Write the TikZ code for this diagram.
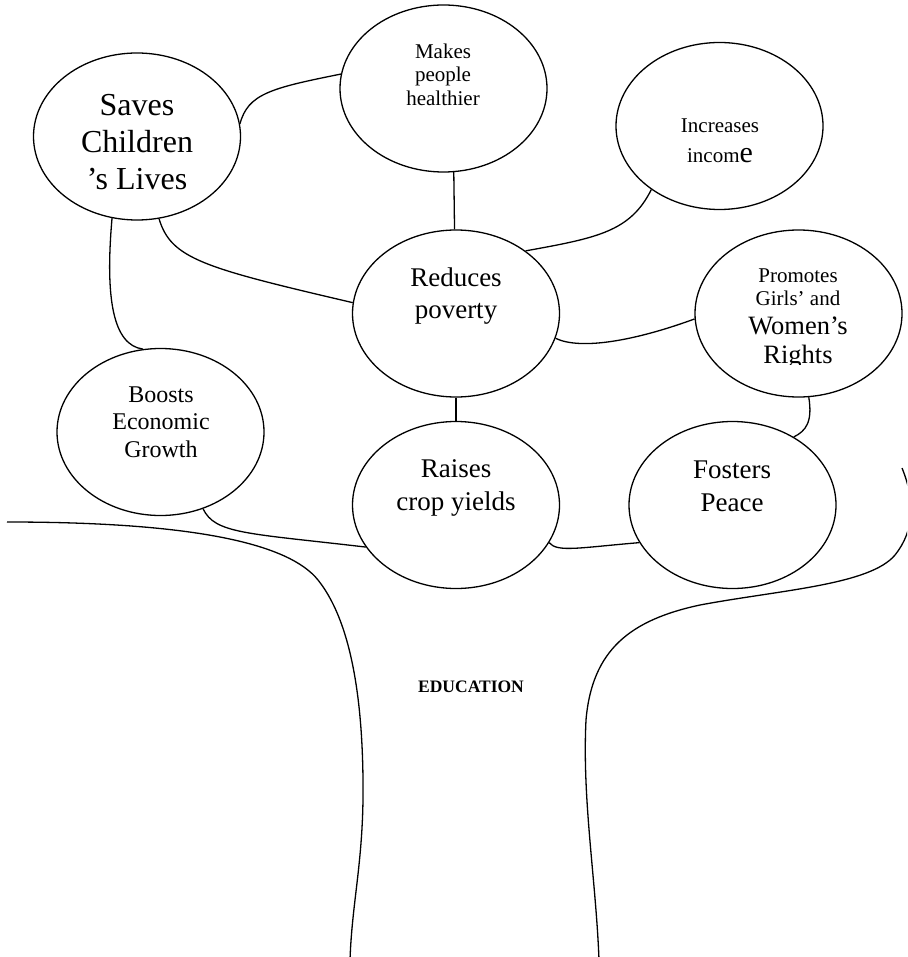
\documentclass[tikz,border=0pt]{standalone}
\usepackage{fontspec}
\setmainfont{Liberation Serif}
\usetikzlibrary{shapes.geometric}

\begin{document}
\begin{tikzpicture}[x=1pt,y=-1pt,
  bubble/.style={draw, ellipse, line width=1.3pt, minimum width=207pt, minimum height=167pt, inner sep=0pt},
  txt/.style={anchor=north, align=center, inner sep=0pt},
  link/.style={line width=1.3pt}]

\clip (0,0) rectangle (907,957);

\node[bubble] (saves) at (137,136.5) {};
\node[bubble] (makes) at (443.5,88.5) {};
\node[bubble] (income) at (719.5,126) {};
\node[bubble] (poverty) at (456,313.5) {};
\node[bubble] (rights) at (798.5,313.5) {};
\node[bubble] (growth) at (160.5,432) {};
\node[bubble] (crops) at (456,505) {};
\node[bubble] (peace) at (732.5,505) {};

\node[txt, font=\fontsize{32}{37}\selectfont] (saves-t) at (137,89) {\strut Saves\\\strut Children\\\strut ’s Lives};
\node[txt, font=\fontsize{21}{23.5}\selectfont] (makes-t) at (443,41.5) {\strut Makes\\\strut people\\\strut healthier};
\node[txt, font=\fontsize{21}{30}\selectfont] (income-t) at (720,111) {\strut Increases\\\strut incom{\fontsize{30}{30}\selectfont e}};
\node[txt, font=\fontsize{27}{32}\selectfont] (poverty-t) at (456,263.6) {\strut Reduces\\\strut poverty};
\begin{scope}
\clip (690,250) rectangle (906,364);
\node[txt, font=\fontsize{21}{29}\selectfont] (rights-t) at (798,261.7) {\strut Promotes\\[-6pt]\strut Girls’ and\\\strut{\fontsize{26.5}{29}\selectfont Women’s}\\\strut{\fontsize{26.5}{29}\selectfont Rights}};
\end{scope}
\node[txt, font=\fontsize{24}{27.5}\selectfont] (growth-t) at (161,382.75) {\strut Boosts\\\strut Economic\\\strut Growth};
\node[txt, font=\fontsize{27}{33}\selectfont] (crops-t) at (456,454) {\strut Raises\\\strut crop yields};
\node[txt, font=\fontsize{27}{33}\selectfont] (peace-t) at (732,455) {\strut Fosters\\\strut Peace};

\draw[link] (saves.7) .. controls +(8,-30) and +(-70,14) .. (makes.172);
\draw[link] (saves.-75) .. controls +(12,40) and +(-150,-35) .. (poverty.174);
\draw[link] (saves.-107) .. controls +(-7,80) and +(-30,-4) .. (growth.102);
\draw[link] (makes.-83) -- (poverty.91);
\draw[link] (income.-137) .. controls +(-21,42) and +(72,-13) .. (poverty.42);
\draw[link] (poverty.-14) .. controls +(25,12) and +(-60,22) .. (rights.183);
\draw[link] (rights.-83) .. controls +(4,25) and +(12,-6) .. (peace.48);
\draw[link] (poverty.-90) -- (crops.90);
\draw[link] (growth.-61) .. controls +(12,25) and +(-120,-14) .. (crops.205);
\draw[link] (crops.-22) .. controls +(8,10) and +(-60,5) .. (peace.202);

% trunk
\draw[link] (7,522) .. controls (200,522) and (290,545) .. (318,580) .. controls (346,615) and (362,680) .. (363,780) .. controls (364,860) and (352,900) .. (350,960);
\draw[link] (902,468) .. controls (915,500) and (915,530) .. (895,555) .. controls (870,585) and (780,590) .. (700,605) .. controls (630,620) and (592,650) .. (586,720) .. controls (582,800) and (596,880) .. (599,960);

\node[anchor=base, inner sep=0pt, font=\fontsize{17.5}{20}\selectfont\bfseries] (trunk) at (471,692) {EDUCATION};

\end{tikzpicture}
\end{document}
